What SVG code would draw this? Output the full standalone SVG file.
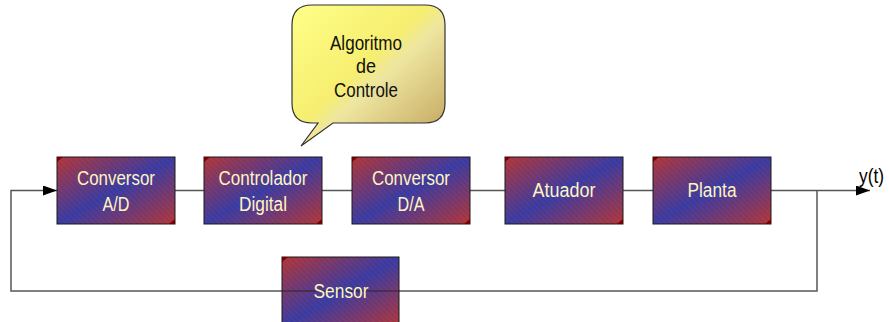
<svg xmlns="http://www.w3.org/2000/svg" width="889" height="322" viewBox="0 0 889 322">
  <defs>
    <linearGradient id="blockFill" x1="0" y1="0" x2="1" y2="1">
      <stop offset="0" stop-color="#b8383a"/>
      <stop offset="0.5" stop-color="#3e3ea6"/>
      <stop offset="1" stop-color="#b8383a"/>
    </linearGradient>
    <pattern id="hatch" width="4" height="4" patternUnits="userSpaceOnUse" patternTransform="rotate(45)">
      <rect width="4" height="2" fill="#000" fill-opacity="0.06"/>
    </pattern>
    <linearGradient id="bubbleFill" x1="0" y1="0" x2="1" y2="1">
      <stop offset="0" stop-color="#ffff88"/>
      <stop offset="0.45" stop-color="#f6ee70"/>
      <stop offset="0.55" stop-color="#eee6a0"/>
      <stop offset="1" stop-color="#c0a058"/>
    </linearGradient>
    <marker id="arrow" markerWidth="14" markerHeight="10" refX="14" refY="5" orient="auto" markerUnits="userSpaceOnUse">
      <path d="M0,0 L14,5 L0,10 Z" fill="#000"/>
    </marker>
  </defs>
  <style>
    .block rect.body { fill: url(#blockFill); stroke: #1a1a1a; stroke-width: 1; }
    .block rect.tex { fill: url(#hatch); }
    .block path.corner { fill: #7a0000; }
    .label { font-family: "Liberation Sans", Arial, sans-serif; font-size: 20px; fill: #fff4c0; text-anchor: middle; }
    .note { font-family: "Liberation Sans", Arial, sans-serif; font-size: 20px; fill: #111; text-anchor: middle; }
    .wire { fill: none; stroke: #555; stroke-width: 1.5; }
  </style>

  <rect width="889" height="322" fill="#fff"/>

  <!-- speech bubble with the control algorithm -->
  <g id="algoritmo">
    <path d="M312,5 H425 Q445,5 445,25 V103 Q445,123 425,123 H333 L301,146 L318,123 H312 Q292,123 292,103 V25 Q292,5 312,5 Z" fill="url(#bubbleFill)" stroke="#333" stroke-width="1.2"/>
    <text class="note" x="366" y="50" textLength="72" lengthAdjust="spacingAndGlyphs">Algoritmo</text>
    <text class="note" x="366" y="73" textLength="20" lengthAdjust="spacingAndGlyphs">de</text>
    <text class="note" x="366" y="97" textLength="64" lengthAdjust="spacingAndGlyphs">Controle</text>
  </g>

  <!-- signal wires -->
  <g id="connectors">
    <path class="wire" d="M175,190.5 H204"/>
    <path class="wire" d="M322,190.5 H352"/>
    <path class="wire" d="M470,190.5 H505"/>
    <path class="wire" d="M623,190.5 H653"/>
    <path class="wire" d="M771,190.5 H870" marker-end="url(#arrow)"/>
    <path class="wire" d="M817,190.5 V291 H11 V190.5 H57" marker-end="url(#arrow)"/>
  </g>

  <g id="conversor-ad" class="block">
    <rect class="body" x="57" y="157" width="118" height="67"/>
    <rect class="tex" x="57" y="157" width="118" height="67"/>
    <path class="corner" d="M57,157 h6 l-6,5 Z M175,224 h-6 l6,-5 Z"/>
    <text class="label" x="116" y="185" textLength="78" lengthAdjust="spacingAndGlyphs">Conversor</text>
    <text class="label" x="116" y="211" textLength="27" lengthAdjust="spacingAndGlyphs">A/D</text>
  </g>

  <g id="controlador" class="block">
    <rect class="body" x="204" y="157" width="118" height="67"/>
    <rect class="tex" x="204" y="157" width="118" height="67"/>
    <path class="corner" d="M204,157 h6 l-6,5 Z M322,224 h-6 l6,-5 Z"/>
    <text class="label" x="263" y="185" textLength="89" lengthAdjust="spacingAndGlyphs">Controlador</text>
    <text class="label" x="263" y="211" textLength="48" lengthAdjust="spacingAndGlyphs">Digital</text>
  </g>

  <g id="conversor-da" class="block">
    <rect class="body" x="352" y="157" width="118" height="67"/>
    <rect class="tex" x="352" y="157" width="118" height="67"/>
    <path class="corner" d="M352,157 h6 l-6,5 Z M470,224 h-6 l6,-5 Z"/>
    <text class="label" x="411" y="185" textLength="78" lengthAdjust="spacingAndGlyphs">Conversor</text>
    <text class="label" x="411" y="211" textLength="27" lengthAdjust="spacingAndGlyphs">D/A</text>
  </g>

  <g id="atuador" class="block">
    <rect class="body" x="505" y="157" width="118" height="67"/>
    <rect class="tex" x="505" y="157" width="118" height="67"/>
    <path class="corner" d="M505,157 h6 l-6,5 Z M623,224 h-6 l6,-5 Z"/>
    <text class="label" x="564" y="197" textLength="63" lengthAdjust="spacingAndGlyphs">Atuador</text>
  </g>

  <g id="planta" class="block">
    <rect class="body" x="653" y="157" width="118" height="67"/>
    <rect class="tex" x="653" y="157" width="118" height="67"/>
    <path class="corner" d="M653,157 h6 l-6,5 Z M771,224 h-6 l6,-5 Z"/>
    <text class="label" x="712" y="197" textLength="49" lengthAdjust="spacingAndGlyphs">Planta</text>
  </g>

  <g id="sensor" class="block">
    <rect class="body" x="282" y="257" width="117" height="70"/>
    <rect class="tex" x="282" y="257" width="117" height="70"/>
    <path class="corner" d="M282,257 h6 l-6,5 Z"/>
    <line x1="282" y1="291" x2="399" y2="291" stroke="#222" stroke-opacity="0.6" stroke-width="1.5"/>
    <text class="label" x="341" y="298" textLength="55" lengthAdjust="spacingAndGlyphs">Sensor</text>
  </g>

  <g id="saida">
    <text x="859" y="183" font-family="Liberation Sans, Arial, sans-serif" font-size="20" fill="#000" textLength="25" lengthAdjust="spacingAndGlyphs">y(t)</text>
  </g>
</svg>
